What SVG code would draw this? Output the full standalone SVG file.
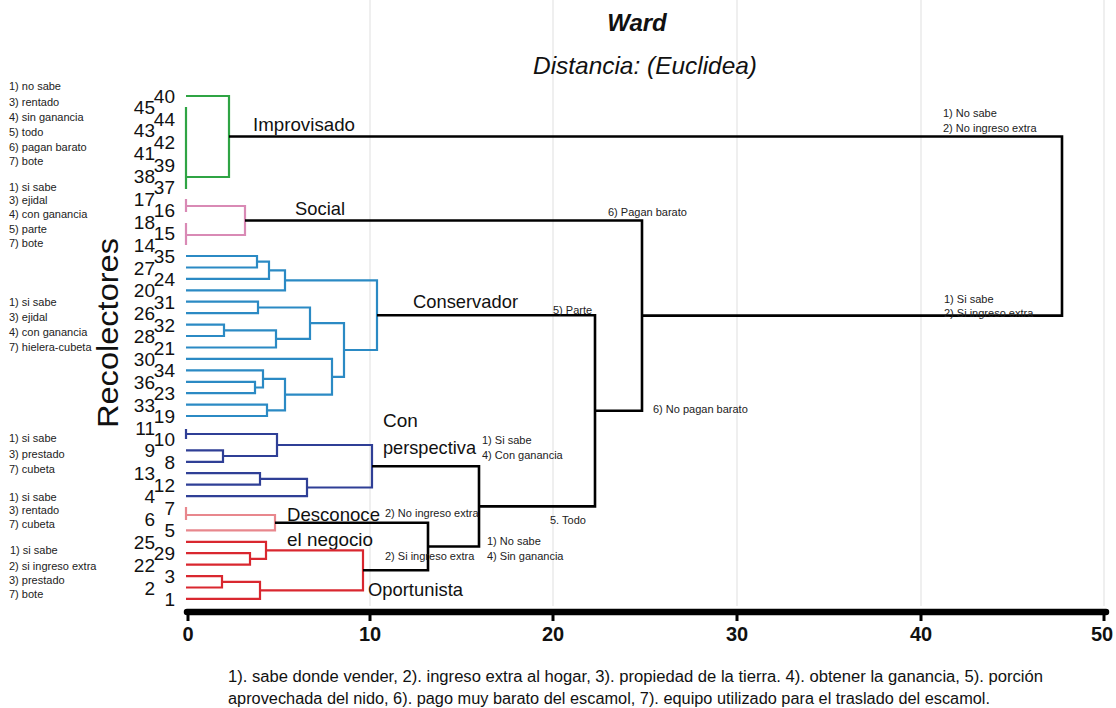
<svg xmlns="http://www.w3.org/2000/svg" width="1116" height="708" viewBox="0 0 1116 708">
<style>
.grid{stroke:#e4e4e4;stroke-width:1.2}
.br{fill:none;stroke-width:2.2;stroke-linejoin:miter}
.g{stroke:#2fa444}
.p{stroke:#d98ab5}
.b{stroke:#2b8ac4}
.d{stroke:#2f3f96}
.s{stroke:#e8878d}
.r{stroke:#d9272f}
.k{fill:none;stroke:#000;stroke-width:2.6}
.leaf{font-family:"Liberation Sans",Arial,sans-serif;font-size:19px;fill:#111;text-anchor:end}
.note{font-family:"Liberation Sans Narrow","Liberation Sans",Arial,sans-serif;font-size:11px;fill:#222}
.big{font-family:"Liberation Sans",Arial,sans-serif;font-size:19px;fill:#111}
.ax{font-family:"Liberation Sans",Arial,sans-serif;font-size:20px;font-weight:bold;fill:#111;text-anchor:middle}
.foot{font-family:"Liberation Sans Narrow","Liberation Sans",Arial,sans-serif;font-size:16px;fill:#111}
</style>
<rect width="1116" height="708" fill="#fff"/>
<g id="grid">
<line class="grid" x1="370" y1="0" x2="370" y2="606"/>
<line class="grid" x1="553" y1="0" x2="553" y2="606"/>
<line class="grid" x1="737" y1="0" x2="737" y2="606"/>
<line class="grid" x1="921" y1="0" x2="921" y2="606"/>
<line class="grid" x1="1104" y1="0" x2="1104" y2="606"/>
</g>
<g id="title" font-family="'Liberation Sans',Arial,sans-serif" fill="#111" text-anchor="middle">
<text x="637" y="31" font-size="24" font-weight="bold" font-style="italic">Ward</text>
<text x="645" y="74" font-size="24" font-style="italic" textLength="224" lengthAdjust="spacingAndGlyphs">Distancia: (Euclidea)</text>
</g>
<text id="ylabel" transform="translate(118,333) rotate(-90)" font-family="'Liberation Sans',Arial,sans-serif" font-size="29" fill="#111" text-anchor="middle" textLength="190" lengthAdjust="spacingAndGlyphs">Recolectores</text>
<g id="leaves">
<text class="leaf" x="175" y="103">40</text>
<text class="leaf" x="155" y="114.4">45</text>
<text class="leaf" x="175" y="125.9">44</text>
<text class="leaf" x="155" y="137.3">43</text>
<text class="leaf" x="175" y="148.7">42</text>
<text class="leaf" x="155" y="160.2">41</text>
<text class="leaf" x="175" y="171.6">39</text>
<text class="leaf" x="155" y="183">38</text>
<text class="leaf" x="175" y="194.4">37</text>
<text class="leaf" x="155" y="205.9">17</text>
<text class="leaf" x="175" y="217.3">16</text>
<text class="leaf" x="155" y="228.7">18</text>
<text class="leaf" x="175" y="240.2">15</text>
<text class="leaf" x="155" y="251.6">14</text>
<text class="leaf" x="175" y="263">35</text>
<text class="leaf" x="155" y="274.5">27</text>
<text class="leaf" x="175" y="285.9">24</text>
<text class="leaf" x="155" y="297.3">20</text>
<text class="leaf" x="175" y="308.7">31</text>
<text class="leaf" x="155" y="320.2">26</text>
<text class="leaf" x="175" y="331.6">32</text>
<text class="leaf" x="155" y="343">28</text>
<text class="leaf" x="175" y="354.5">21</text>
<text class="leaf" x="155" y="365.9">30</text>
<text class="leaf" x="175" y="377.3">34</text>
<text class="leaf" x="155" y="388.8">36</text>
<text class="leaf" x="175" y="400.2">23</text>
<text class="leaf" x="155" y="411.6">33</text>
<text class="leaf" x="175" y="423">19</text>
<text class="leaf" x="155" y="434.5">11</text>
<text class="leaf" x="175" y="445.9">10</text>
<text class="leaf" x="155" y="457.3">9</text>
<text class="leaf" x="175" y="468.8">8</text>
<text class="leaf" x="155" y="480.2">13</text>
<text class="leaf" x="175" y="491.6">12</text>
<text class="leaf" x="155" y="503.1">4</text>
<text class="leaf" x="175" y="514.5">7</text>
<text class="leaf" x="155" y="525.9">6</text>
<text class="leaf" x="175" y="537.3">5</text>
<text class="leaf" x="155" y="548.8">25</text>
<text class="leaf" x="175" y="560.2">29</text>
<text class="leaf" x="155" y="571.6">22</text>
<text class="leaf" x="175" y="583.1">3</text>
<text class="leaf" x="155" y="594.5">2</text>
<text class="leaf" x="175" y="605.9">1</text>
</g>
<g id="notes-left">
<text class="note" x="9" y="90">1) no sabe</text>
<text class="note" x="9" y="106">3) rentado</text>
<text class="note" x="9" y="121">4) sin ganancia</text>
<text class="note" x="9" y="136">5) todo</text>
<text class="note" x="9" y="151">6) pagan barato</text>
<text class="note" x="9" y="165">7) bote</text>
<text class="note" x="9" y="191">1) si sabe</text>
<text class="note" x="9" y="204">3) ejidal</text>
<text class="note" x="9" y="218">4) con ganancia</text>
<text class="note" x="9" y="233">5) parte</text>
<text class="note" x="9" y="247">7) bote</text>
<text class="note" x="9" y="306">1) si sabe</text>
<text class="note" x="9" y="321">3) ejidal</text>
<text class="note" x="9" y="336">4) con ganancia</text>
<text class="note" x="9" y="351">7) hielera-cubeta</text>
<text class="note" x="9" y="442">1) si sabe</text>
<text class="note" x="9" y="458">3) prestado</text>
<text class="note" x="9" y="473">7) cubeta</text>
<text class="note" x="9" y="501">1) si sabe</text>
<text class="note" x="9" y="514">3) rentado</text>
<text class="note" x="9" y="528">7) cubeta</text>
<text class="note" x="10" y="554">1) si sabe</text>
<text class="note" x="9" y="570">2) si ingreso extra</text>
<text class="note" x="9" y="584">3) prestado</text>
<text class="note" x="9" y="598">7) bote</text>
</g>
<g id="cluster-improvisado">
<path class="br g" d="M186 96 H229 V177 H186"/>
<path class="br g" d="M186 107 V189"/>
<text class="big" x="253" y="131" textLength="102" lengthAdjust="spacingAndGlyphs">Improvisado</text>
</g>
<g id="cluster-social">
<path class="br p" d="M186 199 V212 M186 223 V245"/>
<path class="br p" d="M186 206 H245 V235 H186"/>
<text class="big" x="295" y="215" textLength="50" lengthAdjust="spacingAndGlyphs">Social</text>
</g>
<g id="cluster-conservador">
<path class="br b" d="M186 256 H257 V267.5 H186"/>
<path class="br b" d="M257 261.7 H269 V278.9 H186"/>
<path class="br b" d="M269 270.3 H285 V290.3 H186"/>
<path class="br b" d="M186 301.7 H258 V313.2 H186"/>
<path class="br b" d="M186 324.6 H224 V336 H186"/>
<path class="br b" d="M224 330.3 H276 V347.5 H186"/>
<path class="br b" d="M258 307.5 H310 V338.9 H276"/>
<path class="br b" d="M186 381.8 H255 V393.2 H186"/>
<path class="br b" d="M186 370.3 H263 V387.5 H255"/>
<path class="br b" d="M186 404.6 H267 V416 H186"/>
<path class="br b" d="M263 378.9 H285 V410.3 H267"/>
<path class="br b" d="M186 358.9 H332 V394.6 H285"/>
<path class="br b" d="M310 323.2 H344 V376.8 H332"/>
<path class="br b" d="M285 280.3 H377 V350 H344"/>
<text class="big" x="413" y="308" textLength="105" lengthAdjust="spacingAndGlyphs">Conservador</text>
</g>
<g id="cluster-perspectiva">
<path class="br d" d="M186 429 V439"/>
<path class="br d" d="M186 450.3 H223 V461.8 H186"/>
<path class="br d" d="M186 434 H277 V456 H223"/>
<path class="br d" d="M186 473.2 H260 V484.6 H186"/>
<path class="br d" d="M260 478.9 H307 V496.1 H186"/>
<path class="br d" d="M277 445 H372 V487.5 H307"/>
<text class="big" x="383" y="427">Con</text>
<text class="big" x="383" y="454" textLength="93" lengthAdjust="spacingAndGlyphs">perspectiva</text>
</g>
<g id="cluster-desconoce">
<path class="br s" d="M186 507 V520"/>
<path class="br s" d="M186 515 H275 V530.3 H186"/>
<text class="big" x="287" y="521" textLength="93" lengthAdjust="spacingAndGlyphs">Desconoce</text>
<text class="big" x="287" y="546" textLength="86" lengthAdjust="spacingAndGlyphs">el negocio</text>
</g>
<g id="cluster-oportunista">
<path class="br r" d="M186 553.2 H250 V564.6 H186"/>
<path class="br r" d="M186 541.8 H266 V558.9 H250"/>
<path class="br r" d="M186 576.1 H222 V587.5 H186"/>
<path class="br r" d="M222 581.8 H260 V598.9 H186"/>
<path class="br r" d="M266 550.3 H363 V590.3 H260"/>
<text class="big" x="368" y="596" textLength="95" lengthAdjust="spacingAndGlyphs">Oportunista</text>
</g>
<g id="connectors">
<path class="k" d="M229 136.5 H1062 V315.6 H642"/>
<path class="k" d="M245 220.5 H642 V410.8 H595"/>
<path class="k" d="M377 315.2 H595 V506.4 H479"/>
<path class="k" d="M372 466.3 H479 V546.5 H428"/>
<path class="k" d="M275 522.7 H428 V570.3 H363"/>
</g>
<g id="connector-labels">
<text class="note" x="943" y="117">1) No sabe</text>
<text class="note" x="943" y="132">2) No ingreso extra</text>
<text class="note" x="944" y="303">1) Si sabe</text>
<text class="note" x="944" y="317">2) Si ingreso extra</text>
<text class="note" x="608" y="216">6) Pagan barato</text>
<text class="note" x="553" y="314">5) Parte</text>
<text class="note" x="653" y="413">6) No pagan barato</text>
<text class="note" x="482" y="444">1) Si sabe</text>
<text class="note" x="482" y="459">4) Con ganancia</text>
<text class="note" x="385" y="517">2) No ingreso extra</text>
<text class="note" x="550" y="524">5. Todo</text>
<text class="note" x="487" y="545">1) No sabe</text>
<text class="note" x="487" y="560">4) Sin ganancia</text>
<text class="note" x="385" y="560">2) Si ingreso extra</text>
</g>
<g id="axis">
<line x1="187" y1="612" x2="1106" y2="612" stroke="#000" stroke-width="6.5" stroke-linecap="round"/>
<g stroke="#000" stroke-width="3">
<line x1="188" y1="612" x2="188" y2="621"/>
<line x1="370" y1="612" x2="370" y2="621"/>
<line x1="553" y1="612" x2="553" y2="621"/>
<line x1="737" y1="612" x2="737" y2="621"/>
<line x1="921" y1="612" x2="921" y2="621"/>
<line x1="1104" y1="612" x2="1104" y2="621"/>
</g>
<text class="ax" x="188" y="641">0</text>
<text class="ax" x="370" y="641">10</text>
<text class="ax" x="553" y="641">20</text>
<text class="ax" x="737" y="641">30</text>
<text class="ax" x="921" y="641">40</text>
<text class="ax" x="1102" y="641">50</text>
</g>
<g id="footnote">
<text class="foot" x="228" y="682" textLength="815" lengthAdjust="spacingAndGlyphs">1). sabe donde vender, 2). ingreso extra al hogar, 3). propiedad de la tierra. 4). obtener la ganancia, 5). porción</text>
<text class="foot" x="228" y="704" textLength="762" lengthAdjust="spacingAndGlyphs">aprovechada del nido, 6). pago muy barato del escamol, 7). equipo utilizado para el traslado del escamol.</text>
</g>
</svg>
